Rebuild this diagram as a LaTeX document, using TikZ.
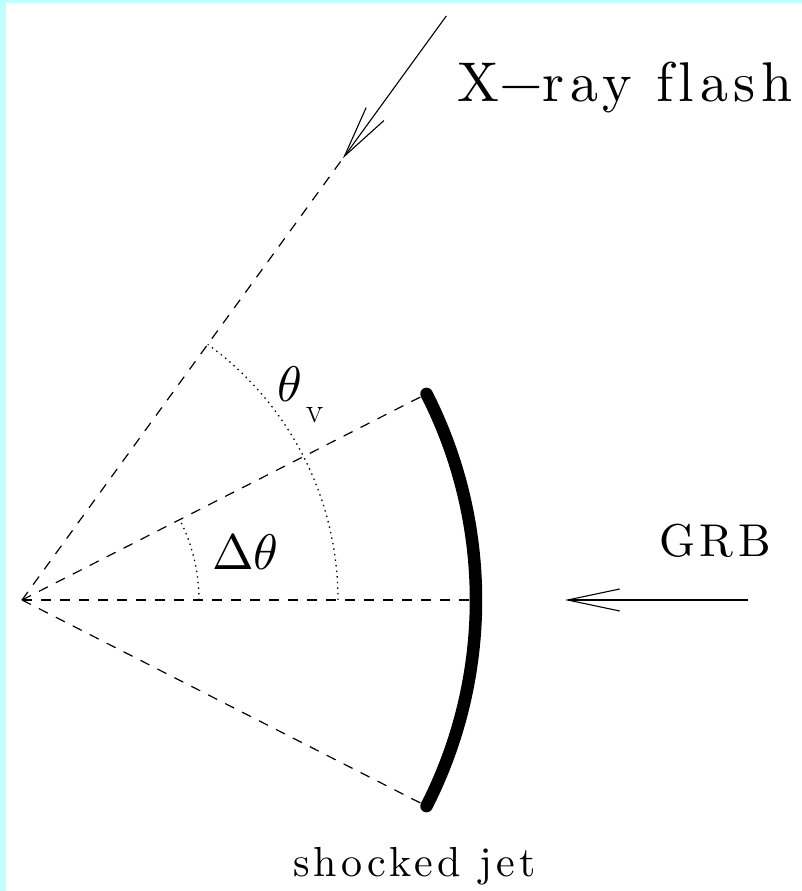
\documentclass[tikz,border=0pt]{standalone}
\usepackage{fontspec}
\usepackage{unicode-math}
\usepackage{tikz}
\usetikzlibrary{arrows.meta,calc}
\definecolor{framecyan}{RGB}{192,255,255}
\newfontfamily\labelfont{lmroman10-regular.otf}[LetterSpace=10, Ligatures=NoCommon]
\tikzset{
  fig/ray/.style={line width=1.2pt, dash pattern=on 10pt off 9pt},
  fig/angle/.style={line width=1.3pt, dash pattern=on 1.4pt off 4.2pt},
  fig/jet/.style={line width=12.5pt, line cap=round},
  fig/beam/.style={line width=1.1pt, -{Straight Barb[length=52pt, width=22pt, line width=1.1pt]}},
  fig/label/.style={inner sep=0pt, anchor=base west}
}

\begin{document}
\begin{tikzpicture}[x=1pt, y=1pt]
  % frame
  \fill[framecyan] (0,0) rectangle (802,891);
  \fill[white] (6,0) rectangle (802,888);
  \useasboundingbox (0,0) rectangle (802,891);

  \coordinate (O) at (22,291);
  \coordinate (jmid) at ($(O)+(0:454)$);
  \coordinate (jtop) at ($(O)+(27:454)$);
  \coordinate (jbot) at ($(O)+(-27:454)$);
  \coordinate (xtip) at ($(O)+(54:546)$);
  \coordinate (xfar) at ($(O)+(54:722)$);
  \coordinate (gtip) at (565,291);
  \coordinate (gfar) at (748,291);

  % rays from the source
  \draw[fig/ray] (O)--(jmid);
  \draw[fig/ray] (O)--(jtop);
  \draw[fig/ray] (O)--(jbot);
  \draw[fig/ray] (O)--(xtip);

  % angles
  \draw[fig/angle] ($(O)+(316,0)$) arc[start angle=0, end angle=54, radius=316];
  \draw[fig/angle] ($(O)+(177,0)$) arc[start angle=0, end angle=27, radius=177];

  % shocked jet
  \draw[fig/jet] (jbot) arc[start angle=-27, end angle=27, radius=454];

  % incoming directions
  \draw[fig/beam] (xfar)--(xtip);
  \draw[fig/beam] (gfar)--(gtip);

  % labels
  \node[fig/label] (thv) at (277,489) {\fontsize{50}{56}\selectfont$\theta_{\mkern3mu\lower8pt\hbox{$\scriptstyle\mathrm{v}$}}$};
  \node[fig/label] (dth) at (212,321) {\fontsize{50}{56}\selectfont$\Delta\theta$};
  \node[fig/label] (xrf) at (457,789) {\fontsize{56}{62}\labelfont X$-$ray flash};
  \node[fig/label] (grb) at (659,334) {\fontsize{46}{52}\labelfont GRB};
  \node[fig/label] (sjet) at (293,14) {\fontsize{42}{48}\labelfont shocked jet};
\end{tikzpicture}
\end{document}
